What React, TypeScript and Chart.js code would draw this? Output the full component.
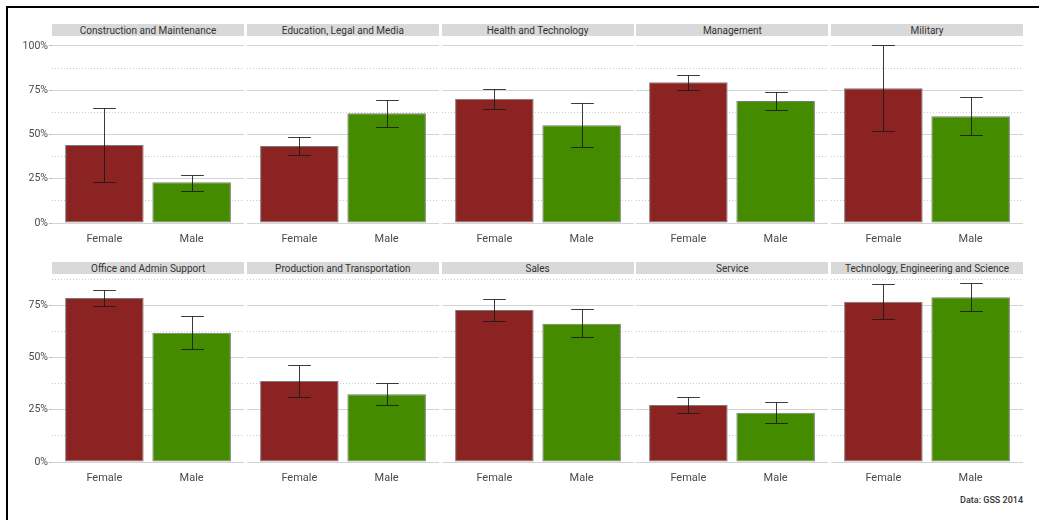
import React, { useEffect, useRef } from "react";
import { Chart, registerables } from "chart.js";

Chart.register(...registerables);

// ---------- data ----------
const occupations = [
  "Construction and Maintenance",
  "Education, Legal and Media",
  "Health and Technology",
  "Management",
  "Military",
  "Office and Admin Support",
  "Production and Transportation",
  "Sales",
  "Service",
  "Technology, Engineering and Science",
];
const sexes = ["Female", "Male"];
const femaleShare = [44.1, 43.5, 70.2, 79.5, 76.1, 78.6, 38.8, 72.8, 27.3, 76.8];
const femaleLow = [23.0, 38.4, 64.4, 75.0, 51.8, 74.7, 31.3, 67.8, 23.3, 68.6];
const femaleHigh = [65.1, 48.4, 75.5, 83.6, 100.6, 82.2, 46.6, 78.1, 31.3, 85.3];
const maleShare = [23.0, 62.0, 55.2, 68.9, 60.3, 62.0, 32.5, 66.3, 23.6, 79.0];
const maleLow = [18.3, 54.4, 42.8, 63.8, 49.5, 54.0, 27.1, 60.0, 18.8, 72.5];
const maleHigh = [27.3, 69.5, 67.8, 73.8, 71.0, 70.2, 37.8, 73.1, 28.6, 85.8];
const yMajorTicks = [0, 25, 50, 75, 100];
const yMinorTicks = [12.5, 37.5, 62.5, 87.5];
const caption = "Data: GSS 2014";

const RED = "#8B2323";
const GREEN = "#458B00";
const FONT = "Roboto";

const PANEL_LEFT0 = 52;
const PANEL_PITCH = 194.75;
const PANEL_W = 192.2;
const ROW_TOP = [36, 274];
const ROW_H = [196, 197];
const STRIP_H = 12;

function rowLimits(row: number) {
  const idx = [0, 1, 2, 3, 4].map((i) => row * 5 + i);
  let hi = 0;
  idx.forEach((i) => {
    hi = Math.max(hi, femaleHigh[i], maleHigh[i], femaleShare[i], maleShare[i]);
  });
  return { min: -0.05 * hi, max: hi * 1.05 };
}

function Panel({ index }: { index: number }) {
  const ref = useRef<HTMLCanvasElement>(null);
  const row = Math.floor(index / 5);
  const col = index % 5;
  const showY = col === 0;
  const panelLeft = PANEL_LEFT0 + col * PANEL_PITCH;
  const yAxisW = showY ? PANEL_LEFT0 : 0;
  const left = panelLeft - yAxisW;
  const width = PANEL_W + yAxisW;
  const xAxisH = 24;
  const height = ROW_H[row] + xAxisH;
  const top = ROW_TOP[row];

  useEffect(() => {
    const { min, max } = rowLimits(row);
    const gridVals = [...yMajorTicks, ...yMinorTicks]
      .filter((v) => v >= min && v <= max)
      .sort((a, b) => a - b);
    const isMajor = (v: number) => yMajorTicks.includes(v);

    const errPlugin = {
      id: "errbars",
      afterDatasetsDraw(chart: any) {
        const xs = chart.scales.x;
        const ys = chart.scales.y;
        const c = chart.ctx;
        c.save();
        c.strokeStyle = "rgba(25,25,25,0.85)";
        c.lineWidth = 1;
        const items: [number, number, number][] = [
          [1, femaleLow[index], femaleHigh[index]],
          [2, maleLow[index], maleHigh[index]],
        ];
        items.forEach(([x, lo, hi]) => {
          const px = Math.round(xs.getPixelForValue(x)) + 0.5;
          const half = xs.getPixelForValue(x + 0.13) - xs.getPixelForValue(x);
          const yl = Math.round(ys.getPixelForValue(lo)) + 0.5;
          const yh = Math.round(ys.getPixelForValue(hi)) + 0.5;
          c.beginPath();
          c.moveTo(px, yl);
          c.lineTo(px, yh);
          c.moveTo(px - half, yl);
          c.lineTo(px + half, yl);
          c.moveTo(px - half, yh);
          c.lineTo(px + half, yh);
          c.stroke();
        });
        c.restore();
      },
    };

    const chart = new Chart(ref.current!, {
      type: "bar",
      data: {
        datasets: [
          {
            data: [
              { x: 1, y: femaleShare[index] },
              { x: 2, y: maleShare[index] },
            ],
            backgroundColor: [RED, GREEN],
            borderColor: "#7a7a7a",
            borderWidth: 1,
            borderSkipped: false,
            barPercentage: 0.9,
            categoryPercentage: 1,
          } as any,
        ],
      },
      options: {
        animation: false,
        responsive: false,
        maintainAspectRatio: false,
        events: [],
        layout: { padding: 0 },
        plugins: { legend: { display: false }, tooltip: { enabled: false }, title: { display: false } },
        scales: {
          x: {
            type: "linear",
            offset: false,
            min: 0.4,
            max: 2.6,
            afterBuildTicks: (s: any) => {
              s.ticks = [{ value: 1 }, { value: 2 }];
            },
            ticks: {
              autoSkip: false,
              maxRotation: 0,
              padding: 1,
              font: { family: FONT, size: 11 },
              color: "#4a4a4a",
              callback: (_v: any, i: number) => sexes[i],
            },
            grid: { display: false, drawTicks: false, offset: false },
            border: { display: false },
            afterFit: (s: any) => {
              s.height = xAxisH;
              s.paddingLeft = 0;
              s.paddingRight = 0;
            },
          } as any,
          y: {
            type: "linear",
            min,
            max,
            afterBuildTicks: (s: any) => {
              s.ticks = gridVals.map((v) => ({ value: v }));
            },
            ticks: {
              display: showY,
              autoSkip: false,
              padding: 1,
              font: { family: FONT, size: 10.5 },
              color: "#4a4a4a",
              callback: (v: any) => (isMajor(v) ? `${v}%` : ""),
            },
            grid: {
              drawTicks: showY,
              tickLength: 3,
              lineWidth: 1,
              color: (ctx: any) => (ctx.tick && isMajor(ctx.tick.value) ? "#d4d4d4" : "#cccccc"),
              tickColor: (ctx: any) => (ctx.tick && isMajor(ctx.tick.value) ? "#bdbdbd" : "rgba(0,0,0,0)"),
            },
            border: {
              display: false,
              dash: (ctx: any) => (ctx.tick && isMajor(ctx.tick.value) ? [] : [1, 2]),
            },
            afterFit: (s: any) => {
              s.width = yAxisW;
              s.paddingTop = 0;
              s.paddingBottom = 0;
            },
          } as any,
        },
      },
      plugins: [errPlugin],
    });
    return () => chart.destroy();
  }, []);

  return (
    <>
      <div
        style={{
          position: "absolute",
          left: panelLeft,
          top: top - STRIP_H,
          width: PANEL_W,
          height: STRIP_H,
          background: "#d9d9d9",
          color: "#333",
          fontFamily: FONT,
          fontSize: 10,
          lineHeight: `${STRIP_H + 1}px`,
          textAlign: "center",
          whiteSpace: "nowrap",
          overflow: "hidden",
        }}
      >
        {occupations[index]}
      </div>
      <canvas
        ref={ref}
        width={Math.round(width)}
        height={height}
        style={{ position: "absolute", left, top, width: Math.round(width), height }}
      />
    </>
  );
}

export default function App() {
  return (
    <div
      style={{
        position: "fixed",
        left: 0,
        top: 0,
        width: 1039,
        height: 520,
        background: "#fff",
        overflow: "hidden",
      }}
    >
      <div style={{ position: "absolute", left: 6, top: 6, width: 1033, height: 2, background: "#000" }} />
      <div style={{ position: "absolute", left: 6, top: 6, width: 2, height: 514, background: "#000" }} />
      {occupations.map((_, i) => (
        <Panel key={i} index={i} />
      ))}
      <div
        style={{
          position: "absolute",
          right: 1039 - 1023,
          top: 495,
          fontFamily: FONT,
          fontSize: 9,
          fontWeight: 500,
          color: "#333",
          whiteSpace: "nowrap",
        }}
      >
        {caption}
      </div>
    </div>
  );
}
